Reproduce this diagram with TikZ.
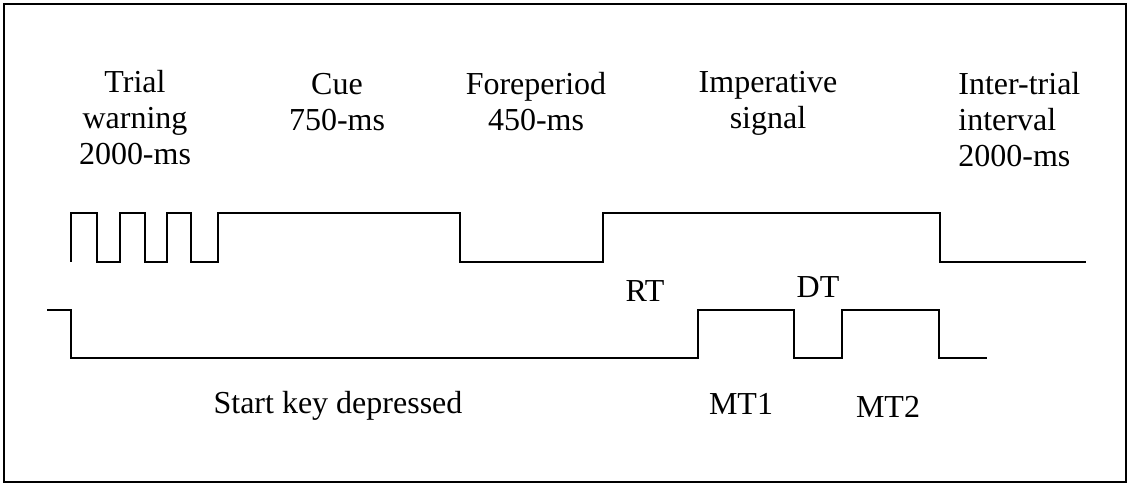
\documentclass[tikz,border=0pt]{standalone}
\usepackage{fontspec}
\setmainfont{Liberation Serif}
\begin{document}
\begin{tikzpicture}[x=0.5pt,y=-0.5pt,
  phase/.style={align=center,inner sep=0pt,font=\fontsize{16}{18}\selectfont},
  tag/.style={inner sep=0pt,font=\fontsize{16}{18}\selectfont},
  frame/.style={line width=1pt},
  trace/.style={line width=1pt,line join=miter}]
 \useasboundingbox (0,0) rectangle (1132,485);
 \draw[frame] (4,4) rectangle (1126,482);
 % phase labels
 \node[phase] (warn) at (135,118) {Trial\\warning\\2000-ms};
 \node[phase] (cue) at (337,102) {Cue\\750-ms};
 \node[phase] (fore) at (536,102) {Foreperiod\\450-ms};
 \node[phase] (imp) at (768,103) {Imperative\\signal};
 \node[phase,align=left,anchor=west] (iti) at (958,120) {Inter-trial\\interval\\2000-ms};
 % stimulus trace
 \draw[trace] (71,262) |- (97,213) |- (120,262) |- (145,213) |- (167,262)
   |- (191,213) |- (218,262) |- (460,213) |- (603,262) |- (940,213) |- (1086,262);
 % response trace
 \draw[trace] (47,310) -| (71,358) -| (698,310) -| (794,358) -| (842,310)
   -| (939,358) -- (987,358);
 \node[tag] (rt) at (645,291) {RT};
 \node[tag] (dt) at (818,287) {DT};
 \node[tag] (mt1) at (741,404) {MT1};
 \node[tag] (mt2) at (888,407) {MT2};
 \node[tag] (key) at (338,406) {Start key depressed};
\end{tikzpicture}
\end{document}
